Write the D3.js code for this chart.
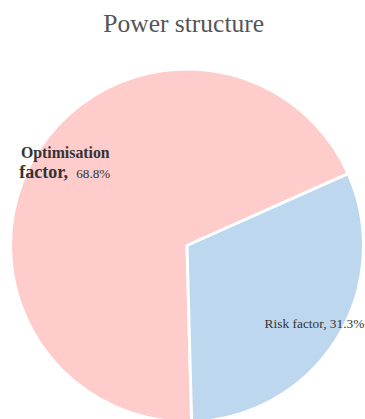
<!DOCTYPE html>
<html><head><meta charset="utf-8">
<script src="https://cdn.jsdelivr.net/npm/d3@7"></script>
<style>html,body{margin:0;padding:0;background:#fff;overflow:hidden}
svg text{font-family:"Liberation Serif", Times, serif;}</style>
</head><body>
<svg id="c" width="365" height="419"></svg>
<script>
const title = "Power structure";
const categories = ["Optimisation factor", "Risk factor"];
const values = [68.8, 31.3];
const colors = ["#ffcccc", "#bdd7ee"];

const W = 365, H = 419;
const cx = 187, cy = 245.5, R = 176.5;
const svg = d3.select("#c");

svg.append("text").attr("x", 183.7).attr("y", 32).attr("text-anchor", "middle")
  .attr("font-size", 25.5).attr("fill", "#555").text(title);

const data = categories.map((c, i) => ({name: c, value: values[i], color: colors[i]}));
const start = 178.5 * Math.PI / 180;
const pie = d3.pie().value(d => d.value).sort(null).startAngle(start).endAngle(start + 2 * Math.PI);
const arcs = pie(data);
const arc = d3.arc().innerRadius(0).outerRadius(R);
const labelArc = d3.arc().innerRadius(146).outerRadius(146);

const g = svg.append("g").attr("transform", `translate(${cx},${cy})`);
g.selectAll("path").data(arcs).join("path")
  .attr("d", arc).attr("fill", d => d.data.color)
  .attr("stroke", "#fff").attr("stroke-width", 3).attr("stroke-linejoin", "round");

arcs.forEach((a, i) => {
  const [lx, ly] = labelArc.centroid(a);
  const pct = a.data.value.toFixed(1) + "%";
  if (i === 0) {
    g.append("text").attr("fill", "#333")
      .attr("x", lx - 42.5).attr("y", ly - 10)
      .attr("font-weight", "bold").attr("font-size", 15.8).text("Optimisation");
    const x0 = lx - 44.3;
    const t2 = g.append("text").attr("fill", "#333").attr("x", x0).attr("y", ly + 10);
    t2.append("tspan").attr("font-weight", "bold").attr("font-size", 18).text("factor,");
    t2.append("tspan").attr("x", x0 + 57).attr("font-size", 13.2).text(pct);
  } else {
    g.append("text").attr("fill", "#333").attr("font-size", 13.4)
      .attr("x", lx + 4).attr("y", ly + 5).attr("text-anchor", "middle")
      .text(a.data.name + ", " + pct);
  }
});
</script>
</body></html>
